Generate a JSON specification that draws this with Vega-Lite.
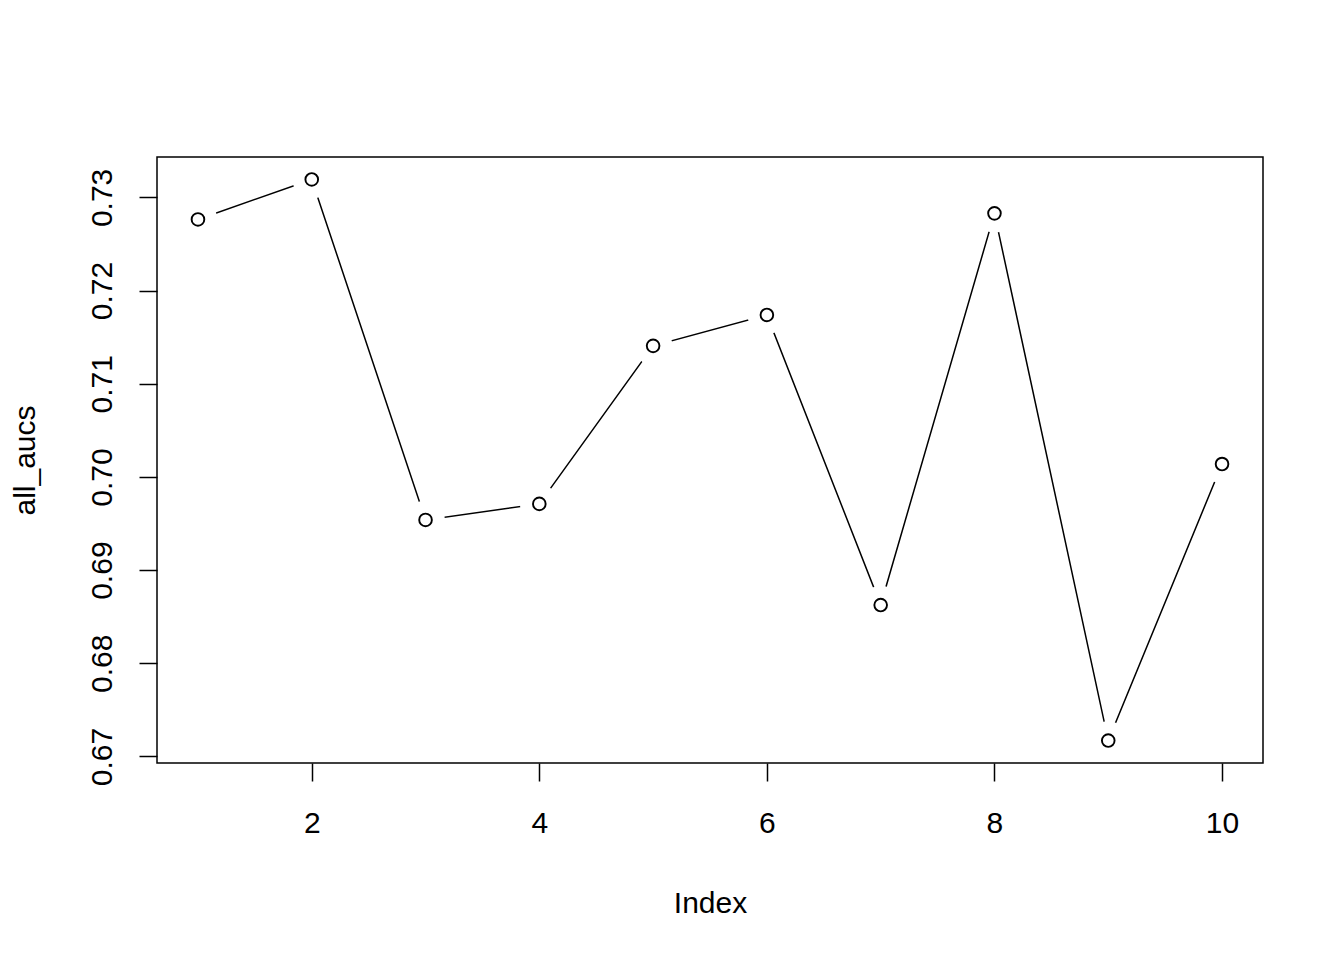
{
  "$schema": "https://vega.github.io/schema/vega-lite/v6.json",
  "width": 1106,
  "height": 606,
  "autosize": {"type": "none"},
  "padding": {"left": 157, "top": 157, "right": 81, "bottom": 197},
  "background": "white",
  "config": {
    "view": {"stroke": "black", "strokeWidth": 1.5},
    "font": "Liberation Sans",
    "axis": {
      "grid": false,
      "domain": false,
      "tickColor": "black",
      "tickWidth": 1.5,
      "tickSize": 18,
      "labelColor": "black",
      "labelFont": "Liberation Sans",
      "labelFontSize": 30,
      "titleColor": "black",
      "titleFont": "Liberation Sans",
      "titleFontSize": 30,
      "titleFontWeight": "normal"
    }
  },
  "data": {
    "values": [
      {"Index": 1, "all_aucs": 0.72764},
      {"Index": 2, "all_aucs": 0.73193},
      {"Index": 3, "all_aucs": 0.69539},
      {"Index": 4, "all_aucs": 0.69711},
      {"Index": 5, "all_aucs": 0.71407},
      {"Index": 6, "all_aucs": 0.71739},
      {"Index": 7, "all_aucs": 0.68625},
      {"Index": 8, "all_aucs": 0.72829},
      {"Index": 9, "all_aucs": 0.67171},
      {"Index": 10, "all_aucs": 0.70139}
    ]
  },
  "encoding": {
    "x": {
      "field": "Index",
      "type": "quantitative",
      "scale": {"domain": [0.64, 10.36], "nice": false, "zero": false},
      "axis": {
        "values": [2, 4, 6, 8, 10],
        "labelBaseline": "alphabetic",
        "labelPadding": 51,
        "title": "Index",
        "titleBaseline": "alphabetic",
        "titleY": 149
      }
    },
    "y": {
      "field": "all_aucs",
      "type": "quantitative",
      "scale": {"domain": [0.66930, 0.73434], "nice": false, "zero": false},
      "axis": {
        "values": [0.67, 0.68, 0.69, 0.70, 0.71, 0.72, 0.73],
        "format": ".2f",
        "labelAngle": -90,
        "labelAlign": "center",
        "labelBaseline": "alphabetic",
        "labelPadding": 28,
        "title": "all_aucs",
        "titleAngle": -90,
        "titleBaseline": "alphabetic",
        "titleX": -123
      }
    }
  },
  "layer": [
    {"mark": {"type": "line", "color": "black", "strokeWidth": 1.5}},
    {"mark": {"type": "point", "shape": "circle", "filled": true, "color": "white", "size": 1500, "opacity": 1}},
    {"mark": {"type": "point", "shape": "circle", "filled": false, "color": "black", "size": 160, "strokeWidth": 1.9, "opacity": 1}}
  ]
}
